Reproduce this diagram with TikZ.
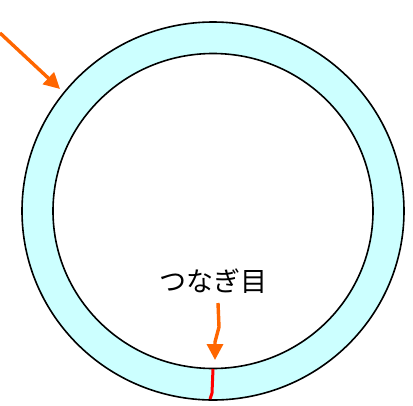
\documentclass[tikz,border=0pt]{standalone}
\usepackage{fontspec}
\newfontfamily\jpfont{Noto Sans CJK JP}
\usetikzlibrary{arrows.meta,shapes.geometric}
\definecolor{ringfill}{HTML}{CCFFFF}
\definecolor{arroworange}{HTML}{FF6600}
\tikzset{
  ring/.style={draw=black, line width=1.6pt},
  pointer/.style={draw=arroworange, line width=3.4pt, -{Triangle[length=16pt,width=16pt]}},
  seam/.style={draw=red, line width=3pt}
}
\begin{document}
\begin{tikzpicture}[x=1pt,y=-1pt]
\useasboundingbox (0,0) rectangle (413,405);
\node[ring, fill=ringfill, ellipse, minimum width=382pt, minimum height=378pt, inner sep=0pt] (outer) at (213,211) {};
\node[ring, fill=white, ellipse, minimum width=320pt, minimum height=315pt, inner sep=0pt] (inner) at (213,211) {};
\coordinate (s1) at (0,33);
\coordinate (t1) at (60,89);
\draw[pointer] (s1) -- (t1);
\node[font=\jpfont\fontsize{27}{27}\selectfont] (label) at (213,281) {つなぎ目};
\coordinate (b1) at (218,303);
\coordinate (b2) at (219,327);
\coordinate (b3) at (215,342);
\coordinate (b4) at (215,360);
\draw[pointer] (b1) -- (b2) -- (b3) -- (b4);
\coordinate (r1) at (213,369);
\coordinate (r2) at (212,393);
\coordinate (r3) at (210,399);
\draw[seam] (r1) -- (r2) -- (r3);
\end{tikzpicture}
\end{document}
